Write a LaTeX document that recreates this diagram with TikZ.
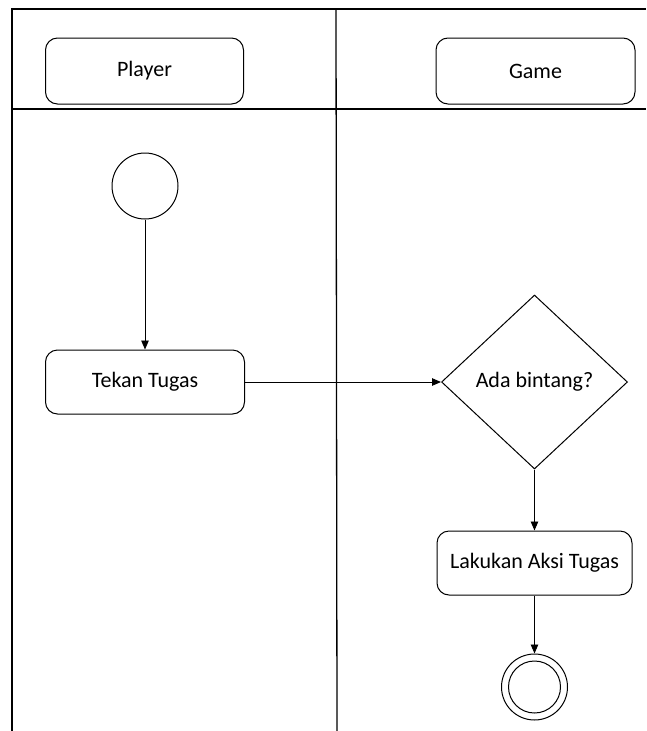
\documentclass[tikz,border=0pt]{standalone}
\usepackage{fontspec}
\setmainfont{Carlito}
\usetikzlibrary{shapes.geometric,arrows.meta}
\begin{document}
\begin{tikzpicture}[x=1pt,y=-1pt,
  frame/.style={line width=1.3pt,black},
  box/.style={draw,rounded corners=12pt,line width=1pt,align=center,inner sep=0pt},
  circ/.style={draw,circle,line width=1pt,inner sep=0pt},
  flow/.style={line width=0.9pt,-{Triangle[length=9pt,width=7.5pt]}},
  every node/.style={font=\fontsize{22}{26}\selectfont}]
\useasboundingbox (0,0) rectangle (646,731);
% lanes
\coordinate (tl) at (12,9);
\coordinate (tr) at (646,9);
\coordinate (bl) at (12,731);
\coordinate (hl) at (12,109);
\coordinate (hr) at (646,109);
\coordinate (dt) at (336,9);
\coordinate (db) at (337,731);
\draw[frame] (bl) -- (tl) -- (tr);
\draw[frame] (hl) -- (hr);
\draw[frame] (dt) -- (db);
% headers
\node[box,minimum width=198pt,minimum height=66pt] (player) at (144.5,71) {Player};
\node[box,minimum width=199pt,minimum height=66pt] (game) at (535.5,71) {Game};
% flow nodes
\node[circ,minimum size=66pt] (start) at (145,186) {};
\node[box,minimum width=199pt,minimum height=64pt] (tekan) at (145,382) {Tekan Tugas};
\node[draw,diamond,line width=1pt,inner sep=0pt,minimum width=186pt,minimum height=174pt] (ada) at (534.5,382) {Ada bintang?};
\node[box,minimum width=195pt,minimum height=64pt] (lakukan) at (534.5,563) {Lakukan Aksi Tugas};
\node[circ,minimum size=66pt] (end) at (534.5,687) {};
\node[circ,minimum size=52pt] (endin) at (end) {};
% connectors
\draw[flow] (start.south) -- (tekan.north);
\draw[flow] (tekan.east) -- (ada.west);
\draw[flow] (ada.south) -- (lakukan.north);
\draw[flow] (lakukan.south) -- (end.north);
\end{tikzpicture}
\end{document}
